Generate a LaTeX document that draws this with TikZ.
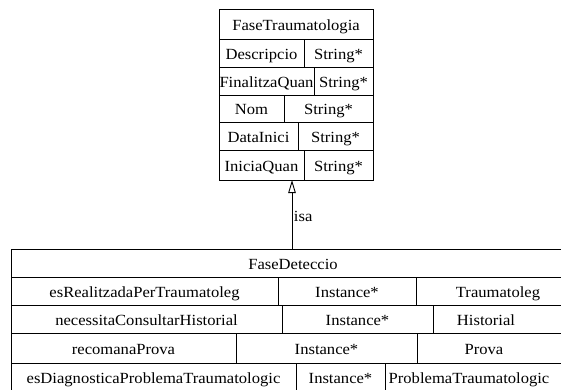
\documentclass[tikz,border=0pt]{standalone}
\usepackage{fontspec}
\setmainfont{Liberation Serif}[FakeStretch=1.07]
\usetikzlibrary{arrows.meta}

\tikzset{
  cell/.style={draw=black, line width=0.9pt, rectangle, inner sep=0pt, outer sep=0pt},
  lbl/.style={inner sep=0pt, text height=12pt, text depth=0pt, font=\fontsize{15.5}{18}\selectfont},
  isa/.style={line width=0.9pt, -{Triangle[open, length=13pt, width=7.5pt]}},
}

% cell with centred text: name, x1, y1, x2, y2, text
\newcommand{\mkcell}[6]{%
  \node[cell, lbl, minimum width={#4pt-#2pt}, minimum height={#5pt-#3pt}]
    (#1) at ({(#2+#4)/2},{(#3+#5)/2}) {#6};}
% cell whose text sits at a given x: name, x1, y1, x2, y2, text x, text
\newcommand{\mkcellat}[7]{%
  \node[cell, minimum width={#4pt-#2pt}, minimum height={#5pt-#3pt}]
    (#1) at ({(#2+#4)/2},{(#3+#5)/2}) {};
  \node[lbl] (#1-t) at (#6,{(#3+#5)/2}) {#7};}

\begin{document}
\begin{tikzpicture}[x=1pt, y=-1pt]
\useasboundingbox (0,0) rectangle (561,389);
\clip (0,0) rectangle (561,389);

% class FaseTraumatologia
\mkcell{ft}{219}{9}{373}{39}{FaseTraumatologia}
\mkcell{t1a}{219}{39}{304}{67}{Descripcio}
\mkcell{t1b}{304}{39}{373}{67}{String*}
\mkcell{t2a}{219}{67}{314}{95}{FinalitzaQuan}
\mkcell{t2b}{314}{67}{373}{95}{String*}
\mkcell{t3a}{219}{95}{284}{122}{Nom}
\mkcell{t3b}{284}{95}{373}{122}{String*}
\mkcell{t4a}{219}{122}{298}{150}{DataInici}
\mkcell{t4b}{298}{122}{373}{150}{String*}
\mkcell{t5a}{219}{150}{304}{180}{IniciaQuan}
\mkcell{t5b}{304}{150}{373}{180}{String*}

% class FaseDeteccio
\mkcellat{fd}{11}{249}{575}{277}{293}{FaseDeteccio}
\mkcell{d1a}{11}{277}{278}{305}{esRealitzadaPerTraumatoleg}
\mkcell{d1b}{278}{277}{416}{305}{Instance*}
\mkcellat{d1c}{416}{277}{575}{305}{498}{Traumatoleg}
\mkcell{d2a}{11}{305}{282}{333}{necessitaConsultarHistorial}
\mkcell{d2b}{282}{305}{433}{333}{Instance*}
\mkcellat{d2c}{433}{305}{575}{333}{486}{Historial}
\mkcell{d3a}{11}{333}{236}{363}{recomanaProva}
\mkcell{d3b}{236}{333}{417}{363}{Instance*}
\mkcellat{d3c}{417}{333}{575}{363}{484}{Prova}
\mkcell{d4a}{11}{363}{296}{391}{esDiagnosticaProblemaTraumatologic}
\mkcell{d4b}{296}{363}{385}{391}{Instance*}
\mkcellat{d4c}{385}{363}{575}{391}{469}{ProblemaTraumatologic}

% generalisation
\coordinate (isaX) at (292,0);
\draw[isa] (fd.north -| isaX) -- node[lbl, anchor=west, pos=0.48, xshift=1.5pt] (isalbl) {isa} (t5a.south -| isaX);
\end{tikzpicture}
\end{document}
